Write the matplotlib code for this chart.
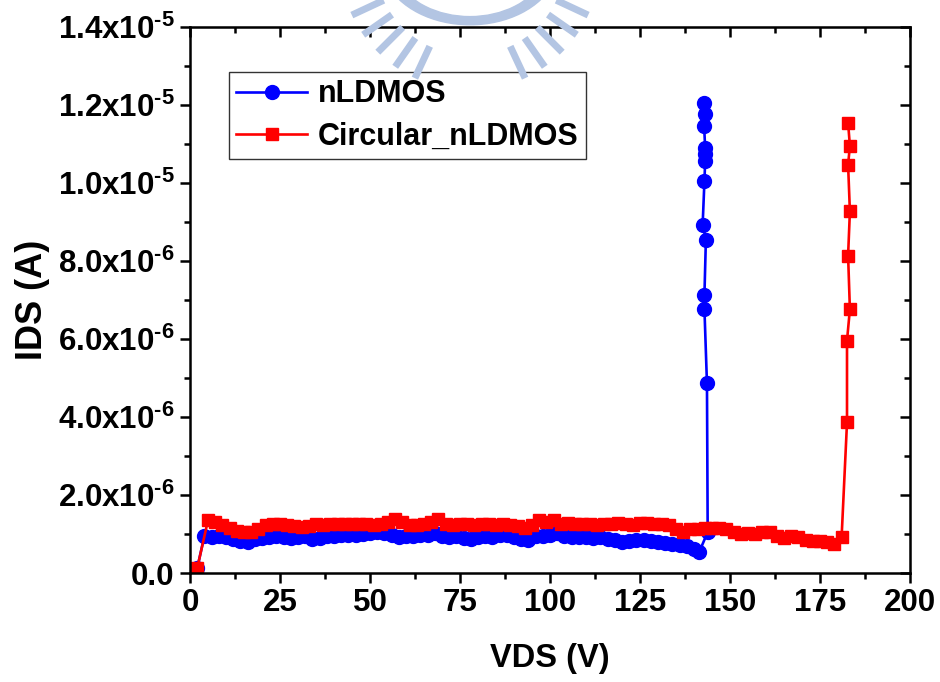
import matplotlib
matplotlib.use('Agg')
import matplotlib.pyplot as plt
from matplotlib.patches import Wedge
import numpy as np

plt.rcParams['font.family'] = ['Liberation Sans', 'DejaVu Sans']
plt.rcParams['font.weight'] = 'bold'
plt.rcParams['mathtext.fontset'] = 'custom'
plt.rcParams['mathtext.rm'] = 'Liberation Sans:bold'
plt.rcParams['mathtext.default'] = 'rm'

# nLDMOS (blue), IDS in 1e-6 A
vds_n = [2, 4, 6, 8, 10, 12, 14, 16, 18, 20, 22, 24, 26, 28, 30, 32, 34, 36, 38, 40,
         42, 44, 46, 48, 50, 52, 54, 56, 58, 60, 62, 64, 66, 68, 70, 72, 74, 76, 78, 80,
         82, 84, 86, 88, 90, 92, 94, 96, 98, 100, 102, 104, 106, 108, 110, 112, 114, 116, 118, 120,
         122, 124, 126, 128, 130, 132, 134, 136, 138, 140, 141.5,
         143.8, 143.6, 142.9, 142.9, 143.3, 142.4, 142.9, 143.1, 143.1, 143.1, 142.8, 143.1, 142.9]
ids_n = [0.12, 0.95, 0.93, 0.95, 0.92, 0.88, 0.82, 0.80, 0.86, 0.90, 0.92, 0.95, 0.93, 0.90, 0.92, 0.95, 0.88, 0.90, 0.95, 0.96,
         0.97, 0.98, 0.97, 1.00, 1.02, 1.05, 1.02, 0.98, 0.93, 0.95, 0.95, 0.97, 0.98, 1.03, 0.96, 0.92, 0.95, 0.90, 0.86, 0.92,
         0.95, 0.93, 0.97, 0.98, 0.92, 0.88, 0.85, 0.95, 0.96, 0.97, 1.02, 0.95, 0.92, 0.93, 0.92, 0.90, 0.93, 0.88, 0.85, 0.80,
         0.82, 0.84, 0.85, 0.83, 0.80, 0.78, 0.75, 0.72, 0.70, 0.62, 0.55,
         1.05, 4.86, 6.76, 7.14, 8.55, 8.93, 10.05, 10.57, 10.75, 10.90, 11.47, 11.77, 12.05]

# Circular_nLDMOS (red), IDS in 1e-6 A
vds_c = [2, 5, 7, 9, 11, 13, 15, 17, 19, 21, 23, 25, 27, 29, 31, 33, 35, 37, 39, 41,
         43, 45, 47, 49, 51, 53, 55, 57, 59, 61, 63, 65, 67, 69, 71, 73, 75, 77, 79, 81,
         83, 85, 87, 89, 91, 93, 95, 97, 99, 101, 103, 105, 107, 109, 111, 113, 115, 117, 119, 121,
         123, 125, 127, 129, 131, 133, 135, 137, 139, 141, 143, 145, 147, 149, 151, 153, 155, 157, 159, 161,
         163, 165, 167, 169, 171, 173, 175, 177, 179, 181,
         182.5, 182.5, 183.3, 182.8, 183.3, 182.8, 183.3, 182.8]
ids_c = [0.12, 1.35, 1.32, 1.22, 1.15, 1.08, 1.05, 1.05, 1.12, 1.22, 1.25, 1.25, 1.22, 1.20, 1.18, 1.20, 1.25, 1.22, 1.25, 1.25,
         1.25, 1.25, 1.25, 1.25, 1.22, 1.25, 1.30, 1.38, 1.30, 1.22, 1.22, 1.25, 1.30, 1.38, 1.25, 1.22, 1.25, 1.25, 1.22, 1.25,
         1.25, 1.22, 1.25, 1.22, 1.20, 1.15, 1.22, 1.35, 1.30, 1.36, 1.25, 1.28, 1.25, 1.25, 1.25, 1.22, 1.25, 1.25, 1.28, 1.25,
         1.22, 1.28, 1.28, 1.25, 1.25, 1.22, 1.12, 1.05, 1.12, 1.12, 1.15, 1.15, 1.15, 1.12, 1.05, 1.00, 1.02, 1.00, 1.05, 1.05,
         0.95, 0.90, 0.95, 0.92, 0.85, 0.82, 0.82, 0.80, 0.75, 0.92,
         3.86, 5.96, 6.76, 8.14, 9.27, 10.47, 10.95, 11.54]

x_ticks = [0, 25, 50, 75, 100, 125, 150, 175, 200]
x_minor = [12.5, 37.5, 62.5, 87.5, 112.5, 137.5, 162.5, 187.5]
y_ticks = [0, 2e-6, 4e-6, 6e-6, 8e-6, 1e-5, 1.2e-5, 1.4e-5]
y_minor = [1e-6, 3e-6, 5e-6, 7e-6, 9e-6, 1.1e-5, 1.3e-5]
y_tick_labels = ['0.0', '2.0x10$^{\u20106}$', '4.0x10$^{\u20106}$', '6.0x10$^{\u20106}$', '8.0x10$^{\u20106}$',
                 '1.0x10$^{\u20105}$', '1.2x10$^{\u20105}$', '1.4x10$^{\u20105}$']

fig = plt.figure(figsize=(9.4, 6.82), dpi=100)
ax = fig.add_axes([0.2021, 0.1598, 0.7660, 0.8006])

ax.plot(vds_n, np.array(ids_n) * 1e-6, color='#0000ff', marker='o', markersize=10,
        linewidth=1.9, label='nLDMOS')
ax.plot(vds_c, np.array(ids_c) * 1e-6, color='#ff0000', marker='s', markersize=9,
        linewidth=1.9, label='Circular_nLDMOS')

ax.set_xlim(0, 200)
ax.set_ylim(0, 1.4e-5)
ax.set_xticks(x_ticks)
ax.set_xticks(x_minor, minor=True)
ax.set_yticks(y_ticks)
ax.set_yticklabels(y_tick_labels)
ax.set_yticks(y_minor, minor=True)

for s in ax.spines.values():
    s.set_linewidth(1.8)
ax.tick_params(which='major', direction='out', length=7, width=1.8, labelsize=22.5, pad=4)
ax.tick_params(which='minor', direction='out', length=4, width=1.8)

# top and right ticks point inwards
top = ax.secondary_xaxis('top')
top.set_xticks(x_ticks, labels=[])
top.set_xticks(x_minor, minor=True)
top.tick_params(which='major', direction='in', length=7, width=1.8)
top.tick_params(which='minor', direction='in', length=4, width=1.8)
right = ax.secondary_yaxis('right')
right.set_yticks(y_ticks, labels=[])
right.set_yticks(y_minor, minor=True)
right.tick_params(which='major', direction='in', length=7, width=1.8)
right.tick_params(which='minor', direction='in', length=4, width=1.8)

ax.set_xlabel('VDS (V)', fontsize=23.5, fontweight='bold', labelpad=18)
ax.set_ylabel('IDS (A)', fontsize=26, fontweight='bold', labelpad=6)

leg = ax.legend(loc='upper left', bbox_to_anchor=(0.054, 0.918), fontsize=22, frameon=True,
                fancybox=False, edgecolor='black', handlelength=2.3, borderpad=0.25,
                labelspacing=0.4, handletextpad=0.35, borderaxespad=0)
leg.get_frame().set_linewidth(1.0)

# faint watermark logo at the top
wm = '#b3c5e3'
cx, cy = 470 / 940, 1 - (-40) / 682
fig.patches.append(Wedge((cx, cy), 0.095, 200, 340, width=0.012, color=wm,
                         transform=fig.transFigure, zorder=5))
for ang in [205, 215, 225, 235, 245, 295, 305, 315, 325, 335]:
    a = np.deg2rad(ang)
    r0, r1 = 0.105, 0.135
    fig.add_artist(plt.Line2D([cx + r0 * np.cos(a), cx + r1 * np.cos(a)],
                              [cy + r0 * np.sin(a) * 940 / 682, cy + r1 * np.sin(a) * 940 / 682],
                              color=wm, linewidth=5, transform=fig.transFigure, zorder=5))

fig.savefig('out.png', dpi=100)
